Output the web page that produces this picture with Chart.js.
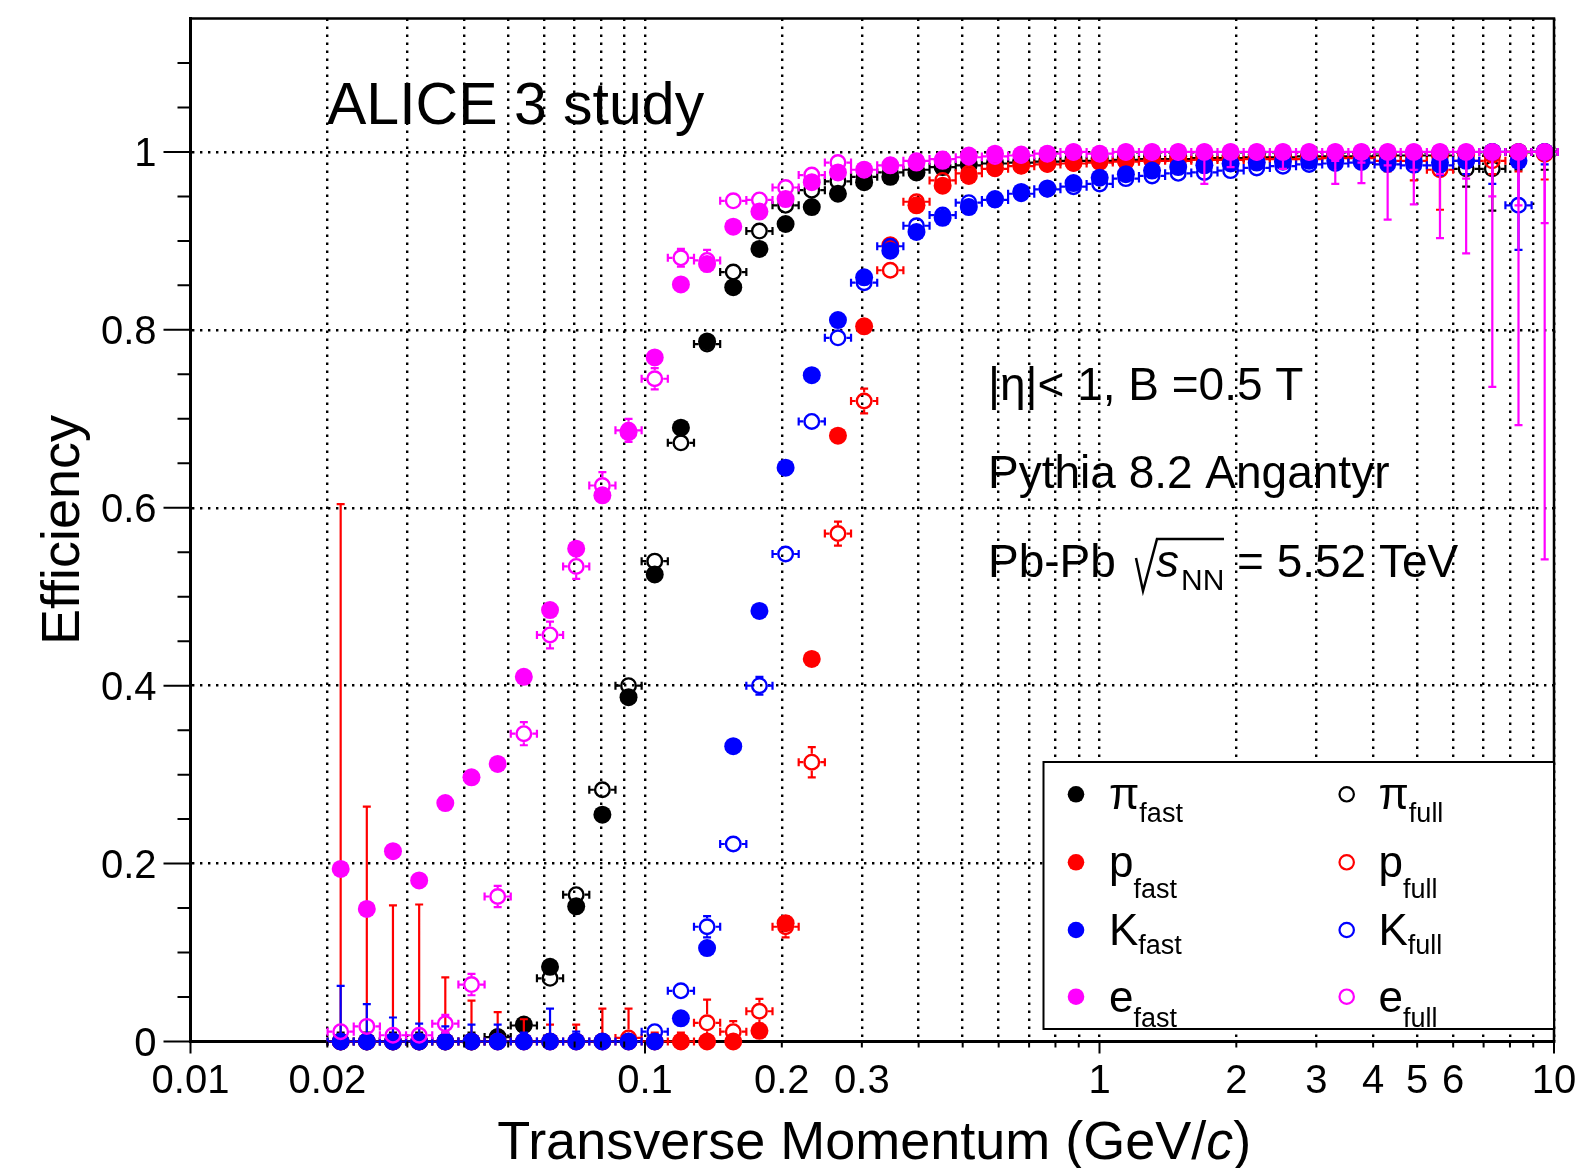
<!DOCTYPE html>
<html>
<head>
<meta charset="utf-8">
<script src="https://cdn.jsdelivr.net/npm/chart.js@4.4.1/dist/chart.umd.min.js"></script>
<style>
  html, body { margin: 0; padding: 0; background: #fff; }
  #wrap { width: 1583px; height: 1168px; position: relative; }
</style>
</head>
<body>
<div id="wrap"><canvas id="chart"></canvas></div>
<script>
// pT bin centres (GeV/c)
const pt = [0.0214, 0.02443, 0.02789, 0.03185, 0.03636, 0.04152, 0.04741, 0.05413, 0.06181, 0.07057,
  0.08058, 0.0920, 0.10505, 0.11995, 0.13696, 0.15638, 0.17855, 0.20387, 0.23278, 0.26579,
  0.30348, 0.34651, 0.39565, 0.45175, 0.51581, 0.58895, 0.67247, 0.76782, 0.8767, 1.001,
  1.143, 1.305, 1.490, 1.701, 1.943, 2.218, 2.533, 2.892, 3.302, 3.770,
  4.305, 4.915, 5.612, 6.408, 7.316, 8.354, 9.539];

const piFast = [0, 0, 0, 0, 0, 0, 0.005, 0.019, 0.084, 0.152,
  0.255, 0.387, 0.525, 0.690, 0.787, 0.848, 0.891, 0.919, 0.938, 0.953,
  0.966, 0.972, 0.977, 0.983, 0.986, 0.988, 0.990, 0.991, 0.992, 0.993,
  0.994, 0.995, 0.995, 0.996, 0.996, 0.997, 0.997, 0.997, 0.998, 0.998,
  0.998, 0.998, 0.999, 0.999, 1.0, 1.0, 1.0];
const piFull = [0, 0, 0, 0, 0, 0, 0.005, 0.018, 0.071, 0.165,
  0.283, 0.400, 0.540, 0.673, 0.784, 0.865, 0.911, 0.940, 0.957, 0.967,
  0.972, 0.977, 0.980, 0.983, 0.985, 0.987, 0.988, 0.989, 0.990, 0.990,
  0.991, 0.992, 0.992, 0.993, 0.993, 0.994, 0.994, 0.995, 0.995, 0.995,
  0.996, 0.996, 0.996, 0.981, 0.981, 1.0, 1.0];
const piFullErr = [0.01, 0.01, 0.01, 0.01, 0.01, 0.01, 0.008, 0.008, 0.008, 0.008,
  0.008, 0.008, 0.008, 0.008, 0.008, 0.006, 0.006, 0.005, 0.004, 0.004,
  0.004, 0.003, 0.003, 0.003, 0.003, 0.003, 0.003, 0.003, 0.003, 0.003,
  0.003, 0.003, 0.003, 0.004, 0.004, 0.004, 0.005, 0.006, 0.007, 0.008,
  0.009, 0.010, 0.012, 0.020, 0.047, 0.020, 0.020];

const pFast = [0, 0, 0, 0, 0, 0, 0, 0, 0, 0,
  0, 0, 0, 0, 0, 0, 0.012, 0.133, 0.430, 0.681,
  0.804, 0.895, 0.940, 0.962, 0.973, 0.982, 0.985, 0.987, 0.988, 0.990,
  0.990, 0.991, 0.992, 0.993, 0.993, 0.994, 0.994, 0.995, 0.995, 0.995,
  0.996, 0.996, 0.996, 0.997, 0.997, 0.998, 0.998];
const pFull = [0, 0, 0, 0, 0, 0, 0, 0, 0, 0,
  0, 0.004, 0, 0, 0.021, 0.011, 0.034, 0.129, 0.314, 0.571,
  0.720, 0.867, 0.944, 0.968, 0.976, 0.981, 0.984, 0.986, 0.987, 0.988,
  0.989, 0.990, 0.990, 0.991, 0.991, 0.992, 0.992, 0.992, 0.993, 0.993,
  0.990, 0.990, 0.980, 0.990, 0.990, 1.0, 1.0];
const pFullErr = [0.604, 0.264, 0.153, 0.154, 0.072, 0.046, 0.033, 0.025, 0.019, 0.019,
  0.037, 0.033, 0.01, 0.01, 0.026, 0.012, 0.014, 0.012, 0.017, 0.0135,
  0.014, 0.008, 0.006, 0.005, 0.004, 0.004, 0.004, 0.004, 0.004, 0.004,
  0.004, 0.004, 0.005, 0.005, 0.005, 0.006, 0.006, 0.007, 0.008, 0.009,
  0.012, 0.022, 0.045, 0.015, 0.015, 0.022, 0.031];

const kFast = [0, 0, 0, 0, 0, 0, 0, 0, 0, 0,
  0, 0, 0, 0.026, 0.105, 0.332, 0.484, 0.645, 0.749, 0.811,
  0.859, 0.889, 0.910, 0.926, 0.938, 0.947, 0.955, 0.959, 0.965, 0.971,
  0.975, 0.979, 0.983, 0.985, 0.987, 0.988, 0.989, 0.990, 0.990, 0.990,
  0.989, 0.989, 0.988, 0.990, 1.0, 0.990, 1.0];
const kFull = [0, 0, 0, 0, 0, 0, 0, 0, 0, 0,
  0, 0, 0.011, 0.057, 0.129, 0.222, 0.400, 0.548, 0.697, 0.791,
  0.853, 0.894, 0.917, 0.929, 0.943, 0.946, 0.953, 0.958, 0.961, 0.964,
  0.970, 0.973, 0.976, 0.977, 0.979, 0.982, 0.984, 0.986, 0.987, 0.988,
  0.986, 0.985, 0.985, 0.990, 1.0, 0.940, 1.0];
const kFullErr = [0.0625, 0.042, 0.027, 0.02, 0.017, 0.019, 0.019, 0.01, 0.037, 0.011,
  0.008, 0.005, 0.008, 0.009, 0.012, 0.009, 0.01, 0.008, 0.006, 0.005,
  0.004, 0.004, 0.004, 0.004, 0.003, 0.003, 0.003, 0.003, 0.003, 0.003,
  0.003, 0.003, 0.003, 0.003, 0.004, 0.004, 0.005, 0.005, 0.006, 0.007,
  0.008, 0.009, 0.011, 0.015, 0.036, 0.05, 0.014];

const eFast = [0.194, 0.149, 0.214, 0.181, 0.268, 0.297, 0.312, 0.410, 0.485, 0.554,
  0.614, 0.685, 0.769, 0.851, 0.874, 0.916, 0.933, 0.947, 0.966, 0.977,
  0.980, 0.985, 0.988, 0.990, 0.996, 0.998, 0.997, 0.998, 1.0, 0.998,
  1.0, 1.0, 1.0, 1.0, 1.0, 1.0, 1.0, 1.0, 1.0, 1.0,
  1.0, 1.0, 1.0, 1.0, 1.0, 1.0, 1.0];
const eFastErr = [0, 0, 0, 0, 0, 0, 0, 0, 0, 0,
  0, 0, 0, 0, 0, 0, 0, 0, 0, 0,
  0, 0, 0, 0, 0, 0, 0, 0, 0, 0,
  0, 0, 0, 0.036, 0.017, 0.006, 0.019, 0.008, 0.036, 0.035,
  0.076, 0.059, 0.097, 0.114, 0.264, 0.307, 0.458];
const eFull = [0.011, 0.017, 0.007, 0.007, 0.020, 0.064, 0.163, 0.346, 0.457, 0.534,
  0.625, 0.687, 0.745, 0.881, 0.878, 0.945, 0.946, 0.960, 0.974, 0.988,
  0.980, 0.985, 0.990, 0.992, 0.994, 0.995, 0.996, 0.998, 1.0, 0.998,
  1.0, 1.0, 1.0, 1.0, 1.0, 1.0, 1.0, 1.0, 1.0, 1.0,
  1.0, 1.0, 1.0, 1.0, 1.0, 1.0, 1.0];
const eFullErr = [0.006, 0.006, 0.006, 0.006, 0.01, 0.012, 0.012, 0.013, 0.015, 0.014,
  0.015, 0.013, 0.012, 0.01, 0.012, 0.008, 0.008, 0.007, 0.006, 0.005,
  0.004, 0.004, 0.004, 0.004, 0.004, 0.004, 0.004, 0.004, 0.004, 0.004,
  0.005, 0.005, 0.005, 0.006, 0.006, 0.007, 0.008, 0.009, 0.01, 0.012,
  0.015, 0.02, 0.025, 0.03, 0.05, 0.06, 0.08];

// axis ticks
const xTickVals = [0.01, 0.02, 0.03, 0.04, 0.05, 0.06, 0.07, 0.08, 0.09, 0.1,
  0.2, 0.3, 0.4, 0.5, 0.6, 0.7, 0.8, 0.9, 1, 2, 3, 4, 5, 6, 7, 8, 9, 10];
const xTickLabels = ['0.01', '0.02', '', '', '', '', '', '', '', '0.1',
  '0.2', '0.3', '', '', '', '', '', '', '1', '2', '3', '4', '5', '6', '', '', '', '10'];
const xMajor = [0.01, 0.1, 1, 10];
const yTickVals = [0, 0.2, 0.4, 0.6, 0.8, 1];
const yTickLabels = ['0', '0.2', '0.4', '0.6', '0.8', '1'];

const FONT = "'Liberation Sans', Arial, Helvetica, sans-serif";

const series = [
  { sym: 'π', sub: 'fast', color: '#000000', filled: true,  values: piFast, err: null },
  { sym: 'π', sub: 'full', color: '#000000', filled: false, values: piFull, err: piFullErr },
  { sym: 'p', sub: 'fast', color: '#ff0000', filled: true,  values: pFast,  err: null },
  { sym: 'p', sub: 'full', color: '#ff0000', filled: false, values: pFull,  err: pFullErr },
  { sym: 'K', sub: 'fast', color: '#0000ff', filled: true,  values: kFast,  err: null },
  { sym: 'K', sub: 'full', color: '#0000ff', filled: false, values: kFull,  err: kFullErr },
  { sym: 'e', sub: 'fast', color: '#ff00ff', filled: true,  values: eFast,  err: eFastErr },
  { sym: 'e', sub: 'full', color: '#ff00ff', filled: false, values: eFull,  err: eFullErr },
];

// bin edges = geometric midpoints between neighbouring centres
function binEdges(i) {
  const n = pt.length;
  const lo = i > 0 ? Math.sqrt(pt[i - 1] * pt[i]) : pt[0] * Math.sqrt(pt[0] / pt[1]);
  const hi = i < n - 1 ? Math.sqrt(pt[i] * pt[i + 1]) : pt[i] * Math.sqrt(pt[i] / pt[i - 1]);
  return [lo, hi];
}

const MARK_R = 9;     // filled marker radius
const RING_R = 7.3;   // open marker path radius
const RING_W = 2.4;
const CAP = 4;

const errorBars = {
  id: 'errorBars',
  beforeDatasetDraw(chart, args) {
    const ds = chart.data.datasets[args.index];
    const { ctx, scales: { x, y } } = chart;
    const r = ds.xErr ? RING_R + RING_W / 2 : MARK_R;
    ctx.save();
    ctx.strokeStyle = ds.pointBorderColor;
    ctx.lineWidth = 2.2;
    ctx.beginPath();
    ds.data.forEach((p, i) => {
      const px = x.getPixelForValue(p.x), py = y.getPixelForValue(p.y);
      if (ds.xErr) {
        const [lo, hi] = binEdges(i);
        const xl = x.getPixelForValue(lo), xh = x.getPixelForValue(hi);
        ctx.moveTo(xl, py); ctx.lineTo(px - r, py);
        ctx.moveTo(px + r, py); ctx.lineTo(xh, py);
        ctx.moveTo(xl, py - CAP); ctx.lineTo(xl, py + CAP);
        ctx.moveTo(xh, py - CAP); ctx.lineTo(xh, py + CAP);
      }
      const e = ds.yErr ? ds.yErr[i] : 0;
      if (e > 0) {
        const yh = y.getPixelForValue(Math.min(1, p.y + e));
        const yl = y.getPixelForValue(Math.max(0, p.y - e));
        if (yh < py - r) {
          ctx.moveTo(px, py - r); ctx.lineTo(px, yh);
          ctx.moveTo(px - CAP, yh); ctx.lineTo(px + CAP, yh);
        }
        if (yl > py + r) {
          ctx.moveTo(px, py + r); ctx.lineTo(px, yl);
          ctx.moveTo(px - CAP, yl); ctx.lineTo(px + CAP, yl);
        }
      }
    });
    ctx.stroke();
    ctx.restore();
  }
};

function drawMarker(ctx, s, cx, cy, r) {
  ctx.beginPath();
  if (s.filled) {
    ctx.fillStyle = s.color;
    ctx.arc(cx, cy, r, 0, Math.PI * 2);
    ctx.fill();
  } else {
    ctx.strokeStyle = s.color;
    ctx.lineWidth = 2.2;
    ctx.arc(cx, cy, r - 1.1, 0, Math.PI * 2);
    ctx.stroke();
  }
}

const frameAndText = {
  id: 'frameAndText',
  afterDatasetsDraw(chart) {
    const { ctx, chartArea: a, scales: { x, y } } = chart;
    ctx.save();
    ctx.strokeStyle = '#000';
    ctx.fillStyle = '#000';

    // frame top and right
    ctx.lineWidth = 2.5;
    ctx.beginPath();
    ctx.moveTo(a.left, a.top); ctx.lineTo(a.right, a.top); ctx.lineTo(a.right, a.bottom);
    ctx.stroke();

    // tick marks
    ctx.lineWidth = 2;
    ctx.beginPath();
    xTickVals.forEach(v => {
      const px = x.getPixelForValue(v);
      ctx.moveTo(px, a.bottom); ctx.lineTo(px, a.bottom + (xMajor.includes(v) ? 12 : 6));
    });
    for (let k = 0; k <= 22; k++) {
      const py = y.getPixelForValue(k * 0.05);
      ctx.moveTo(a.left, py); ctx.lineTo(a.left - (k % 4 === 0 ? 27 : 13), py);
    }
    ctx.stroke();

    // text
    ctx.textAlign = 'left';
    ctx.textBaseline = 'alphabetic';
    ctx.font = `59px ${FONT}`;
    ctx.fillText('ALICE 3 study', 327, 124);
    ctx.font = `46px ${FONT}`;
    ctx.fillText('|η|< 1, B =0.5 T', 988, 400);
    ctx.fillText('Pythia 8.2 Angantyr', 988, 488);
    ctx.fillText('Pb-Pb', 988, 577);
    ctx.lineWidth = 2.5;
    ctx.beginPath();
    ctx.moveTo(1136, 558); ctx.lineTo(1143, 591); ctx.lineTo(1157, 539); ctx.lineTo(1224, 539);
    ctx.stroke();
    ctx.font = `italic 46px ${FONT}`;
    ctx.fillText('s', 1156, 577);
    ctx.font = `30px ${FONT}`;
    ctx.fillText('NN', 1181, 590);
    ctx.font = `46px ${FONT}`;
    ctx.fillText('= 5.52 TeV', 1237, 577);

    // axis titles
    ctx.font = `54px ${FONT}`;
    const t1 = 'Transverse Momentum (GeV/', t3 = ')';
    const w1 = ctx.measureText(t1).width, w3 = ctx.measureText(t3).width;
    ctx.font = `italic 54px ${FONT}`;
    const w2 = ctx.measureText('c').width;
    let tx = (a.left + a.right) / 2 + 2 - (w1 + w2 + w3) / 2;
    ctx.font = `54px ${FONT}`;
    ctx.fillText(t1, tx, 1159);
    ctx.font = `italic 54px ${FONT}`;
    ctx.fillText('c', tx + w1, 1159);
    ctx.font = `54px ${FONT}`;
    ctx.fillText(t3, tx + w1 + w2, 1159);

    ctx.save();
    ctx.translate(79, (a.top + a.bottom) / 2);
    ctx.rotate(-Math.PI / 2);
    ctx.textAlign = 'center';
    ctx.fillText('Efficiency', 0, 0);
    ctx.restore();

    // legend
    const bx = 1043.5, by = 762, bw = a.right - bx, bh = 1029 - by;
    ctx.fillStyle = '#fff';
    ctx.fillRect(bx, by, bw, bh);
    ctx.lineWidth = 2;
    ctx.strokeRect(bx, by, bw, bh);
    const rowY = [794.3, 862.3, 930, 996.7];
    const subDrop = { 'π': 28, 'p': 36, 'K': 24, 'e': 30 };
    series.forEach((s, k) => {
      const col = k % 2, row = Math.floor(k / 2);
      const mx = col ? 1346.7 : 1076, my = rowY[row];
      const lx = col ? 1378.5 : 1109;
      drawMarker(ctx, s, mx, my, 8.3);
      ctx.fillStyle = '#000';
      ctx.font = `44px ${FONT}`;
      ctx.fillText(s.sym, lx, my + 15);
      const w = ctx.measureText(s.sym).width;
      ctx.font = `27px ${FONT}`;
      ctx.fillText(s.sub, lx + w, my + subDrop[s.sym]);
    });
    ctx.restore();
  }
};

const datasets = series.map((s, k) => ({
  label: s.sym + '_' + s.sub,
  data: pt.map((v, i) => ({ x: v, y: s.values[i] })),
  order: series.length - k,
  showLine: false,
  clip: false,
  pointStyle: 'circle',
  pointRadius: s.filled ? MARK_R : RING_R,
  pointBorderWidth: s.filled ? 0 : RING_W,
  pointBackgroundColor: s.filled ? s.color : 'rgba(0,0,0,0)',
  pointBorderColor: s.color,
  xErr: !s.filled,
  yErr: s.err,
}));

new Chart(document.getElementById('chart'), {
  type: 'scatter',
  data: { datasets },
  options: {
    responsive: true,
    maintainAspectRatio: false,
    animation: false,
    devicePixelRatio: 1,
    events: [],
    layout: { padding: { left: 0, right: 29, top: 18.5, bottom: 0 } },
    plugins: { legend: { display: false }, tooltip: { enabled: false } },
    scales: {
      x: {
        type: 'logarithmic',
        min: 0.01,
        max: 10,
        afterBuildTicks: s => { s.ticks = xTickVals.map(v => ({ value: v })); },
        afterFit: s => { s.height = 126.5; s.paddingLeft = 0; s.paddingRight = 0; },
        ticks: {
          autoSkip: false, maxRotation: 0, padding: 16,
          color: '#000', font: { family: FONT, size: 40 },
          callback: (v, i) => xTickLabels[i]
        },
        grid: { color: '#000', lineWidth: 2.4, drawTicks: false },
        border: { display: true, color: '#000', width: 3, dash: [2.4, 5.6] }
      },
      y: {
        min: 0,
        max: 1.15,
        afterBuildTicks: s => { s.ticks = yTickVals.map(v => ({ value: v })); },
        afterFit: s => { s.width = 190.5; s.paddingTop = 0; s.paddingBottom = 0; },
        ticks: {
          autoSkip: false, padding: 34, labelOffset: 3,
          color: '#000', font: { family: FONT, size: 40 },
          callback: (v, i) => yTickLabels[i]
        },
        grid: { color: '#000', lineWidth: 2.4, drawTicks: false },
        border: { display: true, color: '#000', width: 3, dash: [2.4, 5.6] }
      }
    }
  },
  plugins: [errorBars, frameAndText]
});
</script>
</body>
</html>
